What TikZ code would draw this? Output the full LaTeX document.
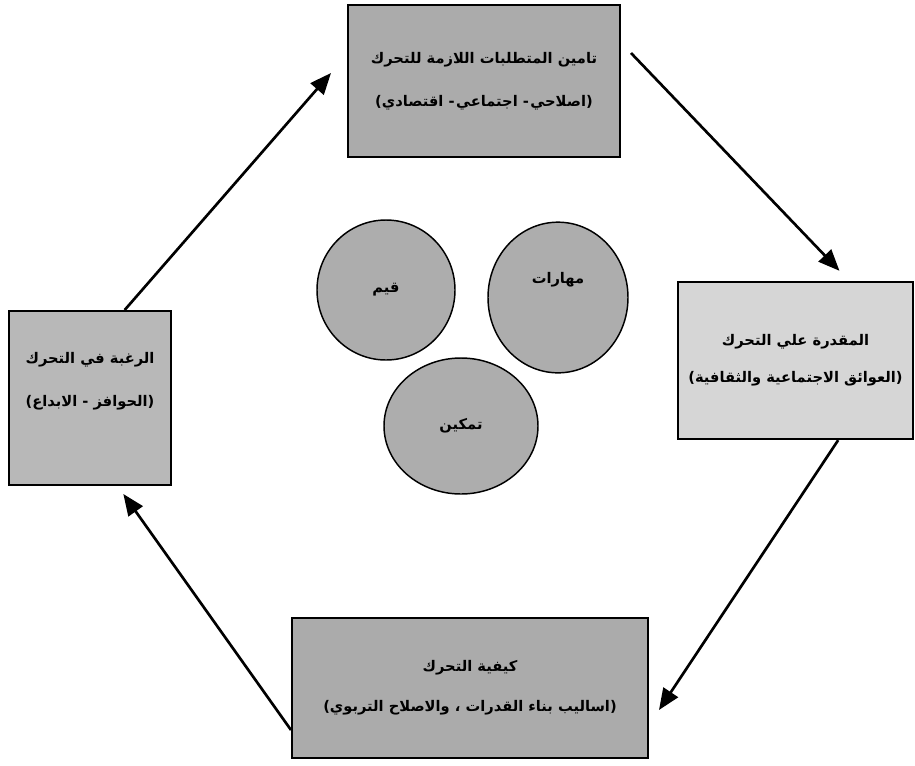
\documentclass[tikz,border=0pt]{standalone}
\usepackage{fontspec}
\newfontfamily\arabicfont[Script=Arabic]{DejaVu Sans}
\TeXXeTstate=1
\usetikzlibrary{shapes.geometric,arrows.meta,positioning}

\begin{document}
\begin{tikzpicture}[
    x=0.75pt, y=-0.75pt,
    stagebox/.style={draw=black, line width=1.5pt, fill=black!33, align=center, inner sep=0pt, font=\arabicfont\bfseries\fontsize{11}{13}\selectfont},
    valuenode/.style={ellipse, draw=black, line width=1.1pt, fill=black!32, inner sep=0pt, font=\arabicfont\bfseries\fontsize{11}{13}\selectfont},
    cyclearrow/.style={line width=2pt, -{Triangle[length=16pt,width=13pt]}}
]
\useasboundingbox (0,0) rectangle (915,765);
% Stages of the cycle
\node[stagebox, minimum width=204pt, minimum height=114pt] (supply) at (484,81)
    {\beginR تامين المتطلبات اللازمة للتحرك\endR\\[19pt])\beginR اصلاحي\kern1pt- اجتماعي\kern1pt- اقتصادي\endR(};
\node[stagebox, fill=black!16, minimum width=176pt, minimum height=118pt] (ability) at (795.5,360.5)
    {\beginR المقدرة علي التحرك\endR\\[15pt])\beginR العوائق الاجتماعية والثقافية\endR(};
\node[stagebox, minimum width=267pt, minimum height=105pt] (method) at (470,688)
    {\beginR كيفية التحرك\endR\\[17pt])\beginR اساليب بناء القدرات ، والاصلاح التربوي\endR(};
\node[stagebox, fill=black!28, minimum width=121pt, minimum height=130.5pt] (desire) at (90,398)
    {\raisebox{28pt}{\shortstack{\beginR الرغبة في التحرك\endR\\[18pt])\beginR الحوافز - الابداع\endR(}}};
% Values in the middle
\node[valuenode, minimum width=103.5pt, minimum height=105pt] (values) at (386,290) {\beginR قيم\endR};
\node[valuenode, minimum width=105pt, minimum height=113pt] (skills) at (558,297.5) {\raisebox{30pt}{\beginR مهارات\endR}};
\node[valuenode, minimum width=115.5pt, minimum height=102pt] (empower) at (461,426) {\beginR تمكين\endR};
% Cycle arrows
\draw[cyclearrow] ([xshift=26pt]desire.north) -- ([xshift=-12pt,yshift=6pt]supply.west);
\draw[cyclearrow] ([xshift=7.5pt,yshift=21pt]supply.east) -- ([xshift=33pt,yshift=7.5pt]ability.north);
\draw[cyclearrow] ([xshift=32pt]ability.south) -- ([xshift=7.5pt,yshift=-16.5pt]method.east);
\draw[cyclearrow] ([yshift=-31.5pt]method.west) -- ([xshift=25pt,yshift=-6pt]desire.south);
\end{tikzpicture}
\end{document}
